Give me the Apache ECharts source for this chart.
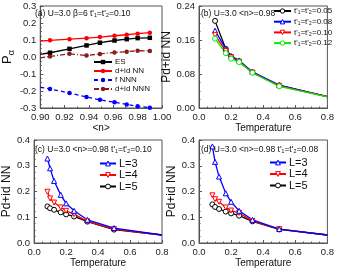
<!DOCTYPE html>
<html><head><meta charset="utf-8">
<script src="https://cdn.jsdelivr.net/npm/echarts@6/dist/echarts.min.js"></script>
<style>html,body{margin:0;padding:0;background:#fff}#c{width:337px;height:272px}</style>
</head><body><div id="c"></div>
<script>
// Panel (a)
const nVals = [0.90, 0.908, 0.924, 0.938, 0.949, 0.961, 0.971, 0.980, 0.990];
const aES   = [0.015, 0.025, 0.048, 0.068, 0.084, 0.097, 0.105, 0.111, 0.113];
const aNN   = [0.093, 0.098, 0.105, 0.111, 0.117, 0.125, 0.131, 0.137, 0.143];
const aFNNN = [-0.178, -0.188, -0.212, -0.235, -0.252, -0.266, -0.279, -0.290, -0.298];
const aNNN  = [-0.005, 0.003, 0.019, 0.009, 0.018, 0.027, 0.031, 0.037, 0.036];
// Panel (b)
const bT   = [0.1, 0.167, 0.2, 0.25, 0.333, 0.5, 0.8];
const b05 = [0.205, 0.139, 0.121, 0.110, 0.084, 0.053, 0.027];
const b08 = [0.182, 0.139, 0.122, 0.112, 0.085, 0.054, 0.027];
const b10 = [0.172, 0.134, 0.119, 0.109, 0.083, 0.052, 0.027];
const b12 = [0.163, 0.129, 0.116, 0.108, 0.083, 0.051, 0.026];
// Panels (c),(d)
const cT = [0.0833, 0.1, 0.125, 0.1667, 0.2, 0.25, 0.3333, 0.5, 0.8];
const c3 = [0.328, 0.290, 0.241, 0.187, 0.154, 0.125, 0.090, 0.058, 0.031];
const c4 = [0.199, 0.173, 0.157, 0.138, 0.125, 0.112, 0.084, 0.054, 0.031];
const c5 = [0.142, 0.135, 0.129, 0.119, 0.111, 0.103, 0.083, 0.052, 0.031];
const d3 = [0.375, 0.315, 0.258, 0.193, 0.160, 0.125, 0.090, 0.054, 0.031];
const d4 = [0.185, 0.170, 0.160, 0.138, 0.126, 0.117, 0.085, 0.054, 0.031];
const d5 = [0.150, 0.140, 0.132, 0.122, 0.115, 0.106, 0.084, 0.053, 0.031];

const FONT = '"Liberation Sans", Arial, sans-serif';
const DOWN = 'path://M0,0 L10,0 L5,9 Z';

function pts(xs, ys, noSymFirst, noSymLast) {
  return xs.map((x, i) => {
    const d = {value: [x, ys[i]]};
    if ((noSymFirst && i === 0) || (noSymLast && i === xs.length - 1)) d.symbol = 'none';
    return d;
  });
}
function ser(name, idx, xs, ys, color, symbol, opts) {
  opts = opts || {};
  return {
    type: 'line', name: name, xAxisIndex: idx, yAxisIndex: idx,
    data: pts(xs, ys, opts.first, opts.last),
    symbol: symbol, symbolSize: opts.size || 5, showAllSymbol: true,
    lineStyle: {color: color, width: 1.3, type: opts.dash || 'solid'},
    itemStyle: opts.filled ? {color: color} : {color: '#fff', borderColor: color, borderWidth: 1},
    animation: false, clip: true, z: opts.z || 2
  };
}
const axisCommon = {
  axisLine: {show: true, onZero: false, lineStyle: {color: '#555', width: 1}},
  axisTick: {show: true, inside: true, length: 3, lineStyle: {color: '#555'}},
  minorTick: {show: true, splitNumber: 2, length: 1.5, lineStyle: {color: '#555'}},
  splitLine: {show: false},
  axisLabel: {fontFamily: FONT, fontSize: 9.5, color: '#222', margin: 4},
  nameTextStyle: {fontFamily: FONT, color: '#111'}
};
function xAx(idx, min, max, interval, name, dec, minor) {
  return Object.assign({}, axisCommon, {
    type: 'value', gridIndex: idx, min: min, max: max, interval: interval,
    name: name, nameLocation: 'middle', nameGap: 15,
    nameTextStyle: {fontFamily: FONT, fontSize: 10, color: '#111'},
    minorTick: Object.assign({}, axisCommon.minorTick, {splitNumber: minor}),
    axisLabel: Object.assign({}, axisCommon.axisLabel, {formatter: v => v.toFixed(dec)})
  });
}
function yAx(idx, min, max, interval, name, dec, minor, gap, rich) {
  return Object.assign({}, axisCommon, {
    type: 'value', gridIndex: idx, min: min, max: max, interval: interval,
    name: name, nameLocation: 'middle', nameGap: gap,
    nameTextStyle: {fontFamily: FONT, fontSize: 12, color: '#111', rich: rich},
    minorTick: Object.assign({}, axisCommon.minorTick, {splitNumber: minor}),
    axisLabel: Object.assign({}, axisCommon.axisLabel, {formatter: v => v.toFixed(dec)})
  });
}
const gridStyle = {show: true, borderColor: '#555', borderWidth: 1, containLabel: false};
const labelMap = {
  'ES': 'ES', 'NN': 'd+id NN', 'fNNN': 'f NNN', 'NNN': 'd+id NNN',
  'b05': "t'₁=t'₂=0.05", 'b08': "t'₁=t'₂=0.08", 'b10': "t'₁=t'₂=0.10", 'b12': "t'₁=t'₂=0.12",
  'c3': 'L=3', 'c4': 'L=4', 'c5': 'L=5', 'd3': 'L=3', 'd4': 'L=4', 'd5': 'L=5'
};
function leg(data, left, top, size, h, gap, w, lh) {
  return {
    data: data, left: left, top: top, orient: 'vertical', padding: 0,
    itemWidth: w, itemHeight: h, itemGap: gap,
    itemStyle: {borderWidth: 1},
    formatter: n => labelMap[n],
    textStyle: {fontFamily: FONT, fontSize: size, lineHeight: lh, color: '#111', padding: [0, 0, 0, -2]},
    selectedMode: false
  };
}
function txt(x, y, s, size) {
  return {type: 'text', left: x, top: y, z: 10,
    style: {text: s, font: size + 'px ' + FONT, fill: '#111'}};
}

const option = {
  backgroundColor: '#fff',
  animation: false,
  grid: [
    Object.assign({left: 31, top: 6, right: 175, bottom: 164}, gridStyle),
    Object.assign({left: 199, top: 6, right: 9, bottom: 164}, gridStyle),
    Object.assign({left: 32, top: 140, right: 175, bottom: 29}, gridStyle),
    Object.assign({left: 199, top: 140, right: 8, bottom: 29}, gridStyle)
  ],
  xAxis: [
    xAx(0, 0.90, 1.00, 0.02, '<n>', 2, 2),
    xAx(1, 0, 0.8, 0.2, 'Temperature', 1, 4),
    xAx(2, 0, 0.8, 0.2, 'Temperature', 1, 4),
    xAx(3, 0, 0.8, 0.2, 'Temperature', 1, 4)
  ],
  yAxis: [
    yAx(0, -0.3, 0.3, 0.1, '{p|P}{s|α}', 1, 4, 17, {p: {fontSize: 13, fontFamily: FONT}, s: {fontSize: 9, fontFamily: FONT, padding: [8, 0, 0, 0]}}),
    yAx(1, 0, 0.24, 0.08, 'Pd+id NN', 2, 4, 18),
    yAx(2, 0, 0.4, 0.1, 'Pd+id NN', 1, 4, 16),
    yAx(3, 0, 0.4, 0.1, 'Pd+id NN', 1, 4, 16)
  ],
  legend: [
    leg(['ES', 'NN', 'fNNN', 'NNN'], 93, 58, 8, 5.5, 1, 18, 8),
    leg(['b05', 'b08', 'b10', 'b12'], 273, 6.5, 8, 5.5, 1.7, 17, 9),
    leg(['c3', 'c4', 'c5'], 99, 158, 11, 6, 0.5, 16, 10),
    leg(['d3', 'd4', 'd5'], 269, 157, 11, 6, 0.5, 16, 10)
  ],
  graphic: [
    txt(35, 9, "(a) U=3.0 β=6 t'₁=t'₂=0.10", 8.5),
    txt(201, 9, '(b) U=3.0 <n>=0.98', 8.5),
    txt(35, 145, "(c) U=3.0 <n>=0.98 t'₁=t'₂=0.10", 8.5),
    txt(201, 145, "(d) U=3.0 <n>=0.98 t'₁=t'₂=0.08", 8.5)
  ],
  series: [
    ser('ES', 0, nVals, aES, '#000000', 'rect', {filled: true, first: true, size: 4.5}),
    ser('NN', 0, nVals, aNN, '#ff0000', 'circle', {filled: true, first: true, size: 4.5}),
    ser('fNNN', 0, nVals, aFNNN, '#0000ff', 'circle', {filled: true, first: true, size: 4.5, dash: [4, 3]}),
    ser('NNN', 0, nVals, aNNN, '#8b1a1a', 'circle', {filled: true, first: true, size: 4.5, dash: [5, 2, 1, 2]}),
    ser('b05', 1, bT, b05, '#000000', 'circle', {last: true}),
    ser('b08', 1, bT, b08, '#0000ff', 'triangle', {last: true}),
    ser('b10', 1, bT, b10, '#ff0000', DOWN, {last: true}),
    ser('b12', 1, bT, b12, '#00ee00', 'circle', {last: true}),
    ser('c5', 2, cT, c5, '#000000', 'circle', {last: true}),
    ser('c4', 2, cT, c4, '#ff0000', DOWN, {last: true}),
    ser('c3', 2, cT, c3, '#0000ff', 'triangle', {last: true}),
    ser('d5', 3, cT, d5, '#000000', 'circle', {last: true}),
    ser('d4', 3, cT, d4, '#ff0000', DOWN, {last: true}),
    ser('d3', 3, cT, d3, '#0000ff', 'triangle', {last: true})
  ]
};
const chart = echarts.init(document.getElementById('c'), null, {renderer: 'canvas'});
chart.setOption(option);
</script></body></html>
